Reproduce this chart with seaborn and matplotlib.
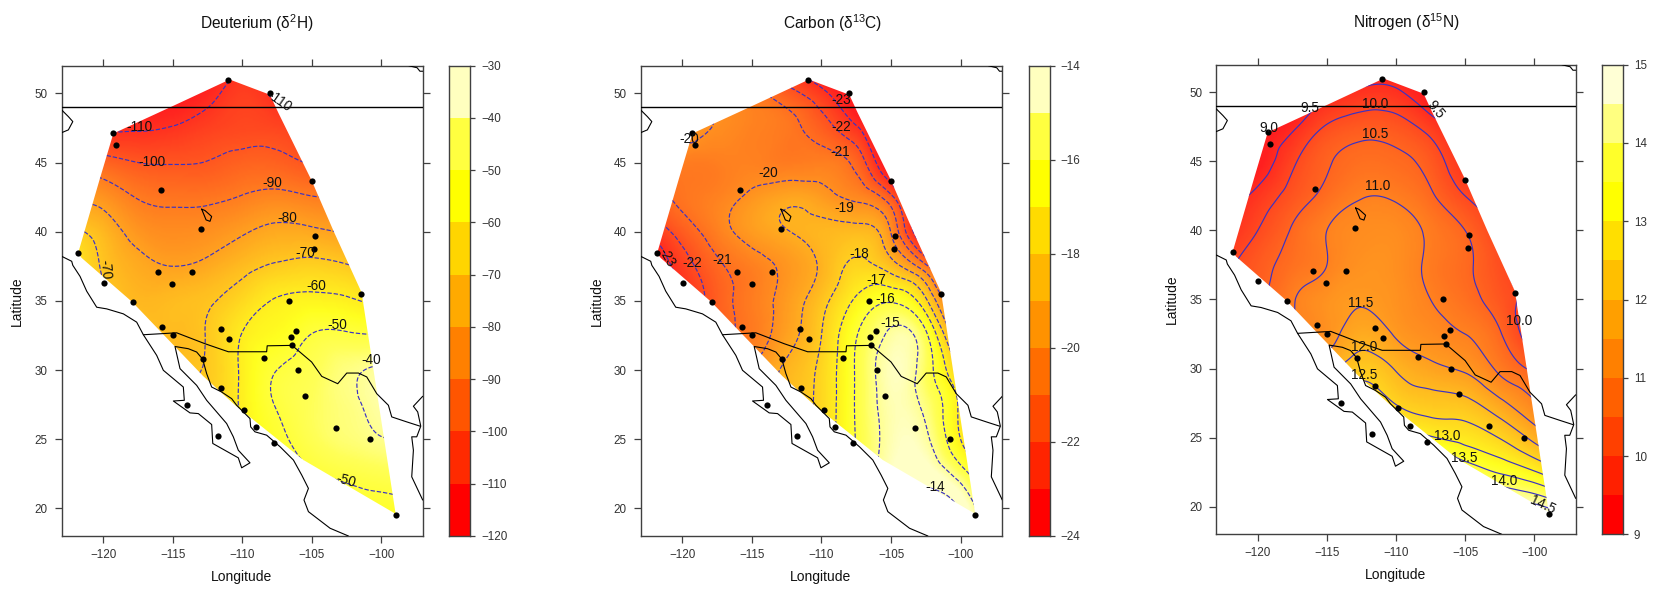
import numpy as np
import matplotlib
matplotlib.use("Agg")
import matplotlib.pyplot as plt
import matplotlib.tri as mtri
from matplotlib.colors import BoundaryNorm, LinearSegmentedColormap, ListedColormap, Normalize
from matplotlib.patches import Polygon
import seaborn as sns

W, H = 1658, 589

# Grid the isotope surfaces were read on (values estimated from the contours)
grid_lon = [-122.5, -120, -117.5, -115, -112.5, -110, -107.5, -105, -102.5, -100, -97.5]
grid_lat = [52.5, 50, 47.5, 45, 42.5, 40, 37.5, 35, 32.5, 30, 27.5, 25, 22.5, 20, 17.5]

deuterium = [
    [-118, -120, -120, -120, -118, -113, -116, -118, -118, -118, -118],
    [-118, -118, -118, -117, -113, -106.5, -112, -115, -115, -115, -115],
    [-114, -112, -111, -109.5, -106, -103.7, -104.5, -108, -112, -112, -112],
    [-93, -96.5, -100, -100.5, -99.7, -97, -97.3, -100.5, -102, -104, -104],
    [-82, -84, -90.5, -92.2, -92, -89.5, -87.5, -89.6, -90, -92, -92],
    [-66, -74.4, -83.3, -85.8, -84.7, -81, -77.7, -78.4, -80.8, -84, -85],
    [-60, -71, -77.5, -80, -77.8, -72.9, -68.8, -67.3, -69.2, -73, -75],
    [-60, -68, -74, -73, -71, -65.2, -59.3, -57.6, -58.8, -62, -65],
    [-60, -65, -70, -73, -69.5, -59.7, -55.3, -49.7, -48.8, -50, -53],
    [-60, -63, -67, -70, -69.2, -58.7, -50, -46, -41.5, -39, -38],
    [-62, -62, -65, -68, -68, -58.7, -49.5, -45, -41.5, -38, -37],
    [-62, -62, -65, -66, -64, -58, -52, -46, -42.5, -40.3, -38],
    [-62, -62, -64, -62, -60, -56, -54, -51, -48.2, -46.4, -44],
    [-62, -62, -62, -62, -60, -58, -56, -56, -53.5, -52.5, -52],
    [-62, -62, -62, -62, -62, -60, -58, -58, -57, -56, -56],
]

carbon = [
    [-20.5, -20.8, -21.5, -22.5, -23.5, -25, -26, -26, -26, -26, -26],
    [-20.3, -20.3, -20.4, -20.7, -21.6, -22.7, -24.5, -26, -26, -26, -26],
    [-19.3, -19.6, -20.05, -20.4, -20.7, -21.53, -22.87, -25, -26, -26, -26],
    [-20.2, -20.55, -20.5, -20.4, -20.6, -20.5, -21.33, -24.5, -26, -26, -26],
    [-21.5, -20.8, -20.4, -19.8, -19.33, -19.62, -20.2, -21.75, -25, -26, -26],
    [-23, -21.56, -20.46, -19.6, -19.05, -18.75, -18.63, -20.05, -24.5, -26, -26],
    [-24.3, -22.5, -21.2, -20.46, -19.75, -18.85, -17.8, -18.5, -20.75, -24, -25],
    [-24.5, -23, -21.5, -20.55, -19.6, -18.35, -16.85, -16.1, -17.8, -22, -24],
    [-24.5, -23, -21.5, -20.6, -19.4, -18, -16.05, -14.85, -15.8, -20, -22],
    [-24, -23, -21.5, -20, -18.8, -17.75, -15.9, -14.6, -15.5, -18.2, -21],
    [-24, -23, -21.5, -20, -18.7, -17.7, -15.9, -14.7, -15.2, -17.2, -19.5],
    [-24, -23, -21.5, -20, -18.5, -17.5, -15.95, -14.7, -14.85, -17, -19],
    [-24, -23, -21.5, -20, -18.2, -17.2, -15.8, -14.5, -14.3, -15.5, -18],
    [-24, -23, -21.5, -20, -18, -17, -15.5, -14, -13.5, -14.1, -16.5],
    [-24, -23, -21.5, -20, -18, -16.8, -15, -13.5, -13, -13.6, -15.5],
]

nitrogen = [
    [8, 8, 8.5, 8.8, 9, 9.1, 9, 8.8, 8.5, 8.5, 8.5],
    [8, 8.3, 8.8, 9.35, 9.6, 9.58, 9.1, 8.8, 8.5, 8.5, 8.5],
    [8, 8.9, 9.4, 10.05, 10.29, 10.23, 9.78, 9.2, 8.8, 8.5, 8.5],
    [8.6, 9.15, 9.9, 10.45, 10.68, 10.62, 10.29, 9.6, 9.2, 8.8, 8.5],
    [9.1, 9.65, 10.2, 10.65, 10.97, 10.93, 10.58, 10, 9.6, 9.2, 8.8],
    [9.4, 10, 10.55, 11, 11.2, 11.2, 10.9, 10.5, 9.9, 9.5, 9.2],
    [9.8, 10.3, 10.7, 11, 11.3, 11.25, 10.9, 10.6, 10.1, 9.7, 9.5],
    [10, 10.4, 10.95, 11.3, 11.45, 11.3, 11, 10.7, 10.25, 9.8, 9.5],
    [10.4, 10.7, 11, 11.3, 11.75, 11.45, 11.2, 11, 10.55, 9.7, 9.5],
    [10.7, 11, 11.4, 11.8, 12.3, 11.96, 11.63, 11.42, 10.9, 10.4, 10],
    [11.3, 11.6, 12, 12.3, 12.85, 12.47, 12.24, 12.14, 11.63, 11.05, 10.6],
    [12.2, 12.5, 12.8, 13.2, 13.7, 13.5, 13.05, 12.83, 12.48, 11.85, 11.2],
    [13.3, 13.6, 14, 14.5, 15, 14.8, 14.6, 14, 13.45, 13.05, 12.4],
    [14.5, 14.8, 15.2, 15.8, 16, 16, 16, 15.9, 15, 14.65, 14],
    [16, 16, 16, 16, 16.5, 17, 17, 17, 16.8, 16.5, 15.5],
]

# Sampling sites
site_lon = [-111.0, -108.0, -119.28, -119.1, -115.87, -105.0, -112.94, -104.75, -104.8, -121.82,
            -116.04, -113.59, -115.03, -119.98, -101.42, -117.89, -106.6, -115.75, -111.52,
            -110.92, -115.0, -106.1, -106.5, -106.41, -112.84, -108.43, -106.0, -111.5, -105.47,
            -109.84, -109.0, -103.26, -100.77, -107.73, -113.95, -111.76, -98.94]
site_lat = [51.0, 50.0, 47.1, 46.25, 43.03, 43.68, 40.19, 39.69, 38.75, 38.44,
            37.09, 37.09, 36.23, 36.32, 35.5, 34.9, 35.02, 33.12, 32.96,
            32.21, 32.5, 32.81, 32.38, 31.78, 30.79, 30.84, 29.98, 28.73, 28.15,
            27.14, 25.87, 25.82, 24.98, 24.71, 27.48, 25.24, 19.5]

# Edge of the interpolated surface
hull_lon = [-110.9, -108.0, -107.4, -105.0, -103.4, -101.4, -98.95, -105.6, -110.5, -112.8, -117.9, -121.56, -121.82, -120.24, -119.28, -114.96]
hull_lat = [51.0, 49.9, 48.6, 43.7, 40.0, 35.6, 19.6, 23.5, 27.45, 29.55, 34.9, 38.1, 38.44, 43.87, 47.1, 49.1]

# Map outlines
coast_lon = [-123.0, -122.28, -122.2, -121.68, -121.2, -120.48, -119.76, -118.56, -117.6, -117.12,
             -116.16, -115.68, -114.24, -114.17, -114.96, -113.76, -113.16, -112.2, -112.12, -110.28,
             -110.04, -109.44, -110.28, -110.64, -111.12, -111.84, -112.56, -113.28, -114.48, -114.84,
             -113.88, -113.28, -112.85, -112.56, -112.2, -111.48, -110.76, -110.4, -109.44, -109.39,
             -109.08, -108.24, -107.27, -106.31, -105.71, -105.23, -105.55, -105.23, -103.67, -102.35]
coast_lat = [38.22, 37.86, 37.57, 36.77, 35.7, 34.54, 34.42, 34.06, 33.46, 32.55,
             31.06, 29.98, 28.77, 27.81, 27.76, 26.9, 26.85, 26.06, 24.69, 23.65,
             22.93, 23.29, 24.2, 25.17, 26.13, 26.97, 27.81, 28.89, 30.1, 31.7,
             31.54, 31.3, 30.79, 29.74, 28.77, 28.41, 27.93, 27.45, 26.49, 25.89,
             25.53, 25.29, 24.45, 23.49, 22.4, 21.44, 20.6, 19.76, 18.56, 18.0]
border_lon = [-117.12, -114.72, -112.68, -111.0, -108.24, -108.2, -106.41, -105.0, -104.27, -103.12,
              -102.47, -101.63, -101.03, -100.31, -99.47, -99.23, -98.15, -97.19]
border_lat = [32.55, 32.69, 31.9, 31.32, 31.32, 31.75, 31.78, 30.58, 29.54, 29.01,
              29.78, 29.78, 29.5, 28.29, 27.45, 26.61, 26.25, 25.94]
gulf_lon = [-97.0, -97.67, -97.36, -97.14, -97.43, -97.79, -97.67, -97.79, -97.0]
gulf_lat = [28.1, 27.38, 26.97, 25.94, 25.17, 25.17, 24.2, 22.28, 20.6]
sound_lon = [-123.0, -122.52, -122.2, -122.52, -123.0]
sound_lat = [48.8, 48.32, 47.96, 47.36, 47.16]
lake_lon = [-112.92, -112.68, -112.2, -112.32, -112.6, -112.92]
lake_lat = [41.63, 41.53, 41.1, 40.75, 40.85, 41.63]
north_lon = [-98.0, -97.4, -97.2, -97.0]
north_lat = [52.0, 51.85, 51.6, 51.6]
parallel_lon = [-123, -97]
parallel_lat = [49, 49]

# Colour bands
heat9 = ["#FF0000", "#FF2A00", "#FF5500", "#FF8000", "#FFAA00", "#FFD500", "#FFFF00", "#FFFF40", "#FFFFBF"]
heat10 = ["#FF0000", "#FF2400", "#FF4900", "#FF6D00", "#FF9200", "#FFB600", "#FFDB00", "#FFFF00", "#FFFF40", "#FFFFBF"]
heat12 = ["#FF0000", "#FF2000", "#FF4000", "#FF6000", "#FF8000", "#FF9F00", "#FFBF00", "#FFDF00", "#FFFF00", "#FFFF2A", "#FFFF80", "#FFFFD5"]

deuterium_bands = np.arange(-120, -29, 10)
carbon_bands = np.arange(-24, -13, 1)
nitrogen_bands = np.arange(9, 15.1, 0.5)

deuterium_levels = np.arange(-110, -39, 10)
carbon_levels = np.arange(-23, -13, 1)
nitrogen_levels = np.arange(9, 14.6, 0.5)

deuterium_ticks = [-120, -110, -100, -90, -80, -70, -60, -50, -40, -30]
carbon_ticks = [-24, -22, -20, -18, -16, -14]
nitrogen_ticks = [9, 10, 11, 12, 13, 14, 15]

# Contour labels as they sit on the map: text, lon, lat, rotation
deuterium_labels = [("-110", -117.4, 47.55, 0), ("-110", -107.32, 49.4, -35), ("-100", -116.5, 45.07, 0),
                    ("-90", -107.87, 43.5, 0), ("-80", -106.75, 41.0, 0), ("-70", -105.47, 38.46, 0),
                    ("-70", -119.88, 37.3, -85), ("-60", -104.7, 36.06, 0), ("-50", -103.12, 33.22, 0),
                    ("-40", -100.7, 30.7, 0), ("-50", -102.55, 22.0, -15)]
carbon_labels = [("-23", -108.56, 49.5, 0), ("-22", -108.56, 47.6, 0), ("-21", -108.63, 45.75, 0),
                 ("-20", -113.83, 44.23, 0), ("-19", -108.36, 41.7, 0), ("-18", -107.3, 38.4, 0),
                 ("-17", -106.04, 36.54, 0), ("-16", -105.44, 35.15, 0), ("-15", -105.08, 33.41, 0),
                 ("-14", -101.79, 21.56, 0), ("-21", -117.12, 37.93, 0), ("-22", -119.3, 37.75, 0),
                 ("-23", -121.1, 38.15, -60), ("-20", -119.5, 46.68, 0)]
nitrogen_labels = [("9.0", -119.18, 47.45, 0), ("9.5", -116.24, 48.85, 0), ("10.0", -111.53, 49.16, 0),
                   ("9.5", -107.12, 48.73, -50), ("10.5", -111.48, 46.97, 0), ("11.0", -111.34, 43.2, 0),
                   ("11.5", -112.57, 34.76, 0), ("12.0", -112.3, 31.56, 0), ("12.5", -112.3, 29.52, 0),
                   ("10.0", -101.09, 33.44, 0), ("13.0", -106.27, 25.14, 0), ("13.5", -105.09, 23.56, 0),
                   ("14.0", -102.2, 21.83, 0), ("14.5", -99.4, 20.14, -25)]

sns.set_style("ticks")
plt.rcParams["font.family"] = "Liberation Sans"
plt.rcParams["mathtext.fontset"] = "custom"
plt.rcParams["mathtext.rm"] = "Liberation Sans"
plt.rcParams["mathtext.it"] = "Liberation Sans"
plt.rcParams["mathtext.default"] = "regular"

GREY = "#404040"
LINE_BLUE = "#3A32C4"


def px_axes(fig, left, right, top, bottom):
    return fig.add_axes([left / W, 1 - bottom / H, (right - left) / W, (bottom - top) / H])


def draw_line(ax, xs, ys, lw=0.8):
    sns.lineplot(x=xs, y=ys, sort=False, estimator=None, color="black", linewidth=lw, ax=ax, zorder=4)


def draw_panel(fig, box, key_box, title, title_pos, xlabel_x, ylabel_x, z, bands, levels, colors, ticks, labels):
    top, bottom = box[2], box[3]
    ax = px_axes(fig, *box)

    # smooth the read grid with matplotlib's cubic interpolator
    lon_g, lat_g = np.meshgrid(grid_lon, grid_lat)
    tri = mtri.Triangulation(lon_g.ravel(), lat_g.ravel())
    smooth = mtri.CubicTriInterpolator(tri, np.array(z, dtype=float).ravel(), kind="min_E")
    fine_lon, fine_lat = np.meshgrid(np.linspace(-122.5, -97.5, 301), np.linspace(17.5, 52.5, 351))
    field = np.ma.filled(smooth(fine_lon, fine_lat), np.nan)

    # the surface blends the band colours, the key keeps them stepped
    vmin, vmax = bands[0], bands[-1]
    mids = (bands[:-1] + bands[1:]) / 2
    stops = [(0.0, colors[0])] + [((m - vmin) / (vmax - vmin), c) for m, c in zip(mids, colors)] + [(1.0, colors[-1])]
    blend = LinearSegmentedColormap.from_list("blend", stops)

    hull = Polygon(np.column_stack([hull_lon, hull_lat]), transform=ax.transData, facecolor="none", edgecolor="none")
    ax.add_patch(hull)
    img = ax.imshow(field, extent=(-122.5, -97.5, 17.5, 52.5), origin="lower", aspect="auto", cmap=blend,
                    norm=Normalize(vmin, vmax), alpha=0.88, interpolation="bilinear", zorder=1)
    img.set_clip_path(hull)
    lines = ax.contour(fine_lon, fine_lat, field, levels=levels, colors=LINE_BLUE, linewidths=0.85, zorder=2)
    lines.set_clip_path(hull)

    draw_line(ax, coast_lon, coast_lat)
    draw_line(ax, border_lon, border_lat)
    draw_line(ax, gulf_lon, gulf_lat)
    draw_line(ax, sound_lon, sound_lat)
    draw_line(ax, lake_lon, lake_lat)
    draw_line(ax, north_lon, north_lat)
    draw_line(ax, parallel_lon, parallel_lat, lw=1.0)
    sns.scatterplot(x=site_lon, y=site_lat, color="black", s=20, linewidth=0, ax=ax, zorder=5, clip_on=False)

    for text, lon, lat, rot in labels:
        ax.text(lon, lat, text, fontsize=9.8, color="#111111", rotation=rot, ha="center", va="center", zorder=6)

    ax.set_xlim(-123, -97)
    ax.set_ylim(18, 52)
    ax.set_xticks([-120, -115, -110, -105, -100])
    ax.set_yticks([20, 25, 30, 35, 40, 45, 50])
    ax.tick_params(axis="both", direction="out", length=5, width=0.9, color=GREY, labelcolor="#333333",
                   labelsize=8.4, top=True, right=True, left=True, bottom=True)
    ax.tick_params(axis="x", pad=4)
    ax.tick_params(axis="y", pad=5)
    for side in ax.spines.values():
        side.set_edgecolor(GREY)
        side.set_linewidth(1.0)

    # stepped colour key
    key = px_axes(fig, *key_box)
    key.pcolormesh([0, 1], bands, np.array(mids)[:, None], cmap=ListedColormap(colors), norm=BoundaryNorm(bands, len(colors)))
    key.set_xticks([])
    key.set_ylim(vmin, vmax)
    key.yaxis.tick_right()
    key.set_yticks(ticks)
    key.tick_params(axis="y", direction="out", length=3.5, width=0.9, color=GREY, labelcolor="#333333", labelsize=8.4, pad=4.5)
    for side in key.spines.values():
        side.set_edgecolor(GREY)
        side.set_linewidth(1.0)

    fig.text(title_pos[0] / W, 1 - title_pos[1] / H, title, fontsize=11.2, color="#111111", ha="center", va="center")
    fig.text(xlabel_x / W, 1 - (bottom + 41) / H, "Longitude", fontsize=10, color="#111111", ha="center", va="center")
    fig.text(ylabel_x / W, 1 - (top + bottom) / 2 / H, "Latitude", fontsize=10, color="#111111", rotation=90, ha="center", va="center")


fig = plt.figure(figsize=(W / 100, H / 100), dpi=100, facecolor="white")

draw_panel(fig, (61.7, 422.7, 65.7, 536), (449.3, 470, 65.7, 536), r"Deuterium ($\delta^{2}$H)", (256.7, 23), 242, 17,
           deuterium, deuterium_bands, deuterium_levels, heat9, deuterium_ticks, deuterium_labels)
draw_panel(fig, (640.7, 1002.3, 65.7, 536), (1029, 1049.7, 65.7, 536), r"Carbon ($\delta^{13}$C)", (833, 23), 821, 597,
           carbon, carbon_bands, carbon_levels, heat10, carbon_ticks, carbon_labels)
draw_panel(fig, (1216.3, 1575.7, 64.7, 534.3), (1602.3, 1622.7, 64.7, 534.3), r"Nitrogen ($\delta^{15}$N)", (1406, 22), 1396, 1172,
           nitrogen, nitrogen_bands, nitrogen_levels, heat12, nitrogen_ticks, nitrogen_labels)

fig.savefig("out.png", dpi=100)
